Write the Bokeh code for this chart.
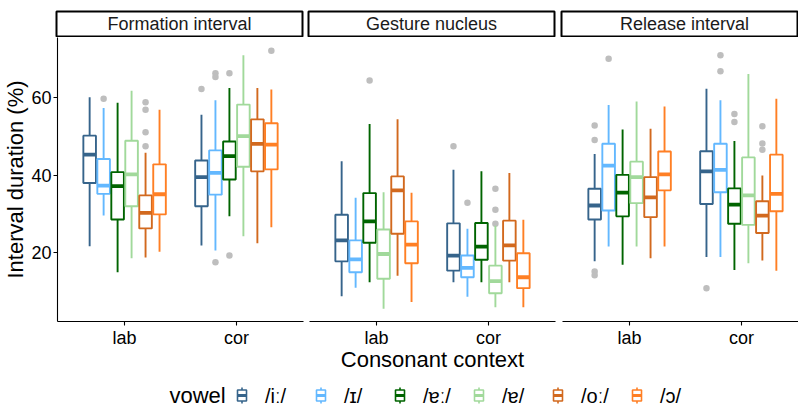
from bokeh.plotting import figure
from bokeh.layouts import row, column
from bokeh.models import Range1d, FixedTicker, ColumnDataSource
from bokeh.embed import file_html
from bokeh.resources import INLINE
from bokeh.core.properties import value

FONT = "Liberation Sans"

facets = ["Formation interval", "Gesture nucleus", "Release interval"]
contexts = ["lab", "cor"]
vowels = ["/iː/", "/ɪ/", "/ɐː/", "/ɐ/", "/oː/", "/ɔ/"]
colors = ["#36648B", "#63B8FF", "#006400", "#A1D99B", "#D2691E", "#FF7F24"]

# order of each list: lab (6 vowels) then cor (6 vowels)
formation_low = [21.7, 29.6, 15.0, 18.6, 18.8, 20.3, 21.9, 20.6, 29.4, 24.3, 22.5, 26.6]
formation_q1 = [38.0, 35.2, 28.6, 32.0, 26.3, 29.9, 32.0, 35.0, 38.9, 42.2, 41.0, 41.5]
formation_med = [45.3, 37.3, 37.2, 40.2, 30.3, 35.1, 39.5, 40.6, 44.9, 50.1, 48.1, 47.9]
formation_q3 = [50.2, 44.2, 40.8, 48.9, 34.8, 42.8, 43.8, 46.4, 48.7, 58.2, 54.4, 53.4]
formation_high = [60.1, 57.3, 58.7, 61.8, 45.8, 56.9, 55.6, 59.3, 62.5, 70.9, 62.5, 62.1]
formation_out_ctx = ["lab", "lab", "lab", "lab", "lab", "cor", "cor", "cor", "cor", "cor", "cor", "cor"]
formation_out_vowel = [1, 4, 4, 4, 4, 0, 1, 1, 1, 2, 2, 5]
formation_out_val = [59.7, 58.8, 56.9, 51.1, 47.5, 62.2, 66.3, 65.3, 17.6, 66.3, 19.3, 72.1]

gesture_low = [8.8, 11.0, 12.4, 5.6, 14.1, 7.3, 12.4, 8.7, 12.4, 6.0, 12.4, 6.0]
gesture_q1 = [17.8, 15.0, 22.6, 13.3, 24.9, 17.3, 15.4, 13.7, 18.2, 9.6, 18.0, 10.9]
gesture_med = [23.2, 18.3, 28.1, 19.7, 36.1, 22.1, 19.3, 16.1, 21.6, 12.7, 21.9, 13.7]
gesture_q3 = [29.8, 23.2, 35.4, 26.0, 39.7, 28.1, 27.6, 19.3, 27.7, 16.7, 28.3, 19.9]
gesture_high = [43.6, 34.2, 53.2, 35.6, 54.4, 35.5, 41.4, 26.2, 41.0, 27.0, 40.6, 28.5]
gesture_out_ctx = ["lab", "cor", "cor", "cor", "cor", "cor"]
gesture_out_vowel = [2, 0, 1, 3, 3, 3]
gesture_out_val = [64.4, 47.5, 32.9, 36.5, 31.1, 27.5]

release_low = [17.8, 21.6, 16.9, 21.6, 18.6, 21.6, 18.9, 18.9, 15.6, 17.3, 18.0, 15.4]
release_q1 = [28.6, 30.9, 29.4, 32.8, 29.2, 36.1, 32.6, 35.6, 27.5, 27.2, 25.1, 30.7]
release_med = [32.2, 42.5, 35.5, 39.5, 34.3, 40.2, 41.0, 41.4, 32.4, 34.8, 29.6, 35.2]
release_q3 = [36.5, 48.1, 40.1, 43.5, 39.5, 46.1, 46.2, 48.1, 36.6, 44.6, 33.3, 45.3]
release_high = [45.5, 58.1, 51.8, 59.0, 52.0, 57.7, 62.3, 59.3, 48.8, 66.1, 39.9, 59.7]
release_out_ctx = ["lab", "lab", "lab", "lab", "lab", "cor", "cor", "cor", "cor", "cor", "cor", "cor", "cor"]
release_out_vowel = [0, 0, 0, 0, 1, 0, 1, 1, 2, 2, 4, 4, 4]
release_out_val = [52.8, 49.1, 15.2, 14.2, 70.0, 10.9, 70.9, 66.8, 55.8, 53.7, 52.6, 48.2, 46.6]

y_ticks = [20, 40, 60]

DODGE = 0.125
BOXW = 0.1125
YR = (2.3, 75.5)
PX_PER_UNIT = 246 / 2.2


def xpos(ctx_idx, v_idx):
    return ctx_idx + 1 + (v_idx - (len(vowels) - 1) / 2) * DODGE


def make_panel(stats, outs, frame_w, left_b, right_b, first, xlabel):
    low, q1, med, q3, high = stats
    xmax = 0.4 + frame_w / PX_PER_UNIT
    p = figure(frame_width=frame_w, frame_height=284,
               x_range=Range1d(0.4, xmax), y_range=Range1d(*YR),
               output_backend="svg", toolbar_location=None,
               min_border_left=left_b, min_border_right=right_b,
               min_border_top=0, min_border_bottom=56,
               y_axis_location="left" if first else None)
    xs, cols = [], []
    for ci in range(len(contexts)):
        for vi in range(len(vowels)):
            xs.append(xpos(ci, vi))
            cols.append(colors[vi])
    src = ColumnDataSource(dict(
        x=xs, low=low, q1=q1, med=med, q3=q3, high=high, color=cols,
        xl=[x - BOXW / 2 for x in xs], xr=[x + BOXW / 2 for x in xs]))
    octx, ov, oval = outs
    osrc = ColumnDataSource(dict(
        x=[xpos(contexts.index(c), v) for c, v in zip(octx, ov)], y=oval))
    p.scatter("x", "y", source=osrc, size=6.5, fill_color="#BEBEBE",
              line_color=None)
    p.segment(x0="x", y0="q3", x1="x", y1="high", source=src,
              line_color="color", line_width=1.9)
    p.segment(x0="x", y0="low", x1="x", y1="q1", source=src,
              line_color="color", line_width=1.9)
    p.vbar(x="x", width=BOXW, bottom="q1", top="q3", source=src,
           fill_color="white", line_color="color", line_width=1.9)
    p.segment(x0="xl", y0="med", x1="xr", y1="med", source=src,
              line_color="color", line_width=3.8)

    p.xgrid.visible = False
    p.ygrid.visible = False
    p.outline_line_color = None
    p.xaxis.ticker = FixedTicker(ticks=[1, 2])
    p.xaxis.major_label_overrides = {1: contexts[0], 2: contexts[1]}
    for ax in p.axis:
        ax.axis_line_color = "black"
        ax.axis_line_width = 1.1
        ax.major_tick_line_color = "black"
        ax.major_tick_line_width = 1.1
        ax.major_tick_in = 0
        ax.major_tick_out = 4
        ax.minor_tick_line_color = None
        ax.major_label_text_font = FONT
        ax.major_label_text_font_size = "18px"
        ax.major_label_text_color = "black"
        ax.major_label_standoff = 2
        ax.axis_label_text_font = FONT
        ax.axis_label_text_font_size = "22px"
        ax.axis_label_text_font_style = "normal"
        ax.axis_label_text_color = "black"
    if first:
        p.yaxis.ticker = FixedTicker(ticks=y_ticks)
        p.yaxis.axis_label = "Interval duration (%)"
        p.yaxis.axis_label_standoff = 0
    if xlabel:
        p.xaxis.axis_label = xlabel
        p.xaxis.axis_label_standoff = -4
    return p


def make_strip(title, frame_w, left_b, right_b):
    xmax = 0.4 + frame_w / PX_PER_UNIT
    s = figure(frame_width=frame_w, frame_height=25,
               x_range=Range1d(0.4, xmax), y_range=Range1d(0, 1),
               output_backend="svg", toolbar_location=None,
               x_axis_location=None, y_axis_location=None,
               min_border_left=left_b, min_border_right=right_b,
               min_border_top=11, min_border_bottom=1)
    s.xgrid.visible = False
    s.ygrid.visible = False
    s.outline_line_color = "black"
    s.outline_line_width = 2
    s.text(x=[1.5], y=[0.5], text=[title], text_font=value(FONT),
           text_font_size="18px", text_color="#1A1A1A",
           text_align="center", text_baseline="middle")
    return s


all_stats = [
    (formation_low, formation_q1, formation_med, formation_q3, formation_high),
    (gesture_low, gesture_q1, gesture_med, gesture_q3, gesture_high),
    (release_low, release_q1, release_med, release_q3, release_high),
]
all_outs = [
    (formation_out_ctx, formation_out_vowel, formation_out_val),
    (gesture_out_ctx, gesture_out_vowel, gesture_out_val),
    (release_out_ctx, release_out_vowel, release_out_val),
]
geom = [(246, 56, 3), (246, 3, 4), (237, 3, 0)]

strips, panels = [], []
for i, f in enumerate(facets):
    fw, lb, rb = geom[i]
    strips.append(make_strip(f, fw, lb, rb))
    panels.append(make_panel(all_stats[i], all_outs[i], fw, lb, rb, i == 0,
                             "Consonant context" if i == 1 else None))

# legend
leg = figure(width=798, height=31, x_range=Range1d(0, 798), y_range=Range1d(0, 31),
             output_backend="svg", toolbar_location=None,
             x_axis_location=None, y_axis_location=None,
             min_border=0, outline_line_color=None)
leg.xgrid.visible = False
leg.ygrid.visible = False
yc = 13
leg.text(x=[169], y=[yc], text=["vowel"], text_font=value(FONT),
         text_font_size="22px", text_color="black",
         text_align="left", text_baseline="middle")
kx = [241.5 + i * 79 for i in range(len(vowels))]
lsrc = ColumnDataSource(dict(
    x=kx, l=[k - 4.5 for k in kx], r=[k + 4.5 for k in kx],
    color=colors, lab=vowels, tx=[k + 23 for k in kx]))
leg.segment(x0="x", y0=yc - 8, x1="x", y1=yc + 8, source=lsrc,
            line_color="color", line_width=1.6)
leg.quad(left="l", right="r", bottom=yc - 5.5, top=yc + 5.5, source=lsrc,
         fill_color="white", line_color="color", line_width=1.6)
leg.segment(x0="l", y0=yc, x1="r", y1=yc, source=lsrc,
            line_color="color", line_width=3)
leg.text(x="tx", y=yc, text="lab", source=lsrc, text_font=value(FONT),
         text_font_size="20px", text_color="black",
         text_align="left", text_baseline="middle")

layout = column(row(*strips), row(*panels), leg)
open("out.html", "w").write(file_html(layout, INLINE))
